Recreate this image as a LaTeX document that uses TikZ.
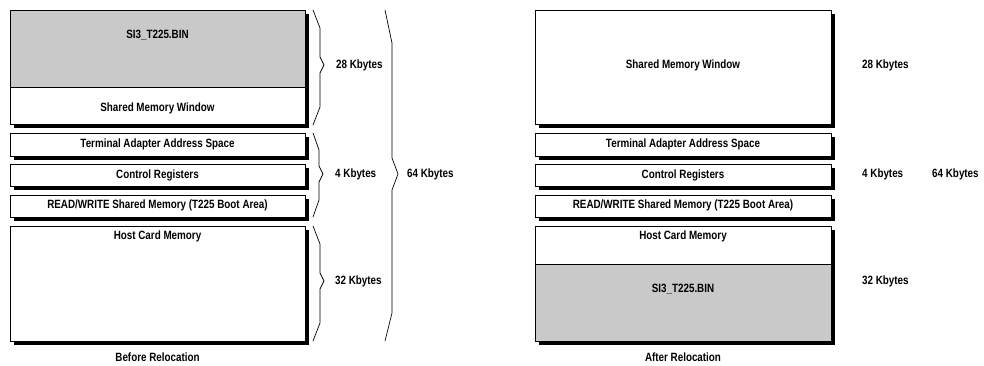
\documentclass[tikz,border=0pt]{standalone}
\usepackage{fontspec}
\setmainfont{Liberation Sans}[FakeStretch=0.82]
\definecolor{binfill}{HTML}{C9C9C9}
\begin{document}
\begin{tikzpicture}[x=1pt,y=-1pt,
  frame/.style={draw=black, line width=0.8pt},
  shadow/.style={fill=black},
  txt/.style={font=\fontsize{12}{14}\selectfont\bfseries, inner sep=0pt},
  size/.style={txt, anchor=west},
  brace/.style={draw=black, line width=0.7pt, line join=miter}]
\useasboundingbox[fill=white] (0,0) rectangle (984,365);

% ---------- memory map before relocation ----------
\fill[shadow] (14,14) rectangle (309,128);
\fill[white] (10,10) rectangle (305,124);
\fill[binfill] (10,10) rectangle (305,87);
\draw[frame] (10,10) rectangle (305,124);
\draw[frame] (10,87) -- (305,87);
\node[txt] (lbin) at (157.5,35) {SI3\_T225.BIN};
\node[txt] (lsmw) at (157.5,108) {Shared Memory Window};

\fill[shadow] (14,137) rectangle (309,160);
\draw[frame, fill=white] (10,133) rectangle (305,156);
\node[txt] (ltaa) at (157.5,144) {Terminal Adapter Address Space};

\fill[shadow] (14,168) rectangle (309,190);
\draw[frame, fill=white] (10,164) rectangle (305,186);
\node[txt] (lcr) at (157.5,175) {Control Registers};

\fill[shadow] (14,199) rectangle (309,221);
\draw[frame, fill=white] (10,195) rectangle (305,217);
\node[txt] (lrw) at (157.5,205) {READ/WRITE Shared Memory (T225 Boot Area)};

\fill[shadow] (14,230) rectangle (309,345);
\draw[frame, fill=white] (10,226) rectangle (305,341);
\node[txt] (lhcm) at (157.5,236) {Host Card Memory};

\node[txt] (lcap) at (157.5,357) {Before Relocation};

% braces
\draw[brace] (313,10) -- (320,28) -- (320,57) -- (324,65) -- (320,73) -- (320,107) -- (313,125);
\draw[brace] (313,133) -- (319,150) -- (319,166) -- (323,174) -- (319,182) -- (319,200) -- (313,217);
\draw[brace] (313,226) -- (320,244) -- (320,273) -- (324,281) -- (320,289) -- (320,323) -- (313,341);
\draw[brace] (385,10) -- (392,43) -- (392,158) -- (398,174) -- (392,190) -- (392,313) -- (385,341);

\node[size] (l28) at (336,65) {28 Kbytes};
\node[size] (l4) at (335,174) {4 Kbytes};
\node[size] (l32) at (335,281) {32 Kbytes};
\node[size] (l64) at (407,174) {64 Kbytes};

% ---------- memory map after relocation ----------
\begin{scope}[xshift=525pt]
\fill[shadow] (14,14) rectangle (310,128);
\draw[frame, fill=white] (10,10) rectangle (306,124);
\node[txt] (rsmw) at (158,65) {Shared Memory Window};

\fill[shadow] (14,137) rectangle (310,160);
\draw[frame, fill=white] (10,133) rectangle (306,156);
\node[txt] (rtaa) at (158,144) {Terminal Adapter Address Space};

\fill[shadow] (14,168) rectangle (310,190);
\draw[frame, fill=white] (10,164) rectangle (306,186);
\node[txt] (rcr) at (158,175) {Control Registers};

\fill[shadow] (14,199) rectangle (310,221);
\draw[frame, fill=white] (10,195) rectangle (306,217);
\node[txt] (rrw) at (158,205) {READ/WRITE Shared Memory (T225 Boot Area)};

\fill[shadow] (14,230) rectangle (310,345);
\fill[white] (10,226) rectangle (306,341);
\fill[binfill] (10,264) rectangle (306,341);
\draw[frame] (10,226) rectangle (306,341);
\draw[frame] (10,264) -- (306,264);
\node[txt] (rhcm) at (158,236) {Host Card Memory};
\node[txt] (rbin) at (158,289) {SI3\_T225.BIN};

\node[txt] (rcap) at (158,357) {After Relocation};

\node[size] (r28) at (337,65) {28 Kbytes};
\node[size] (r4) at (337,174) {4 Kbytes};
\node[size] (r32) at (337,281) {32 Kbytes};
\node[size] (r64) at (407,174) {64 Kbytes};
\end{scope}
\end{tikzpicture}
\end{document}
